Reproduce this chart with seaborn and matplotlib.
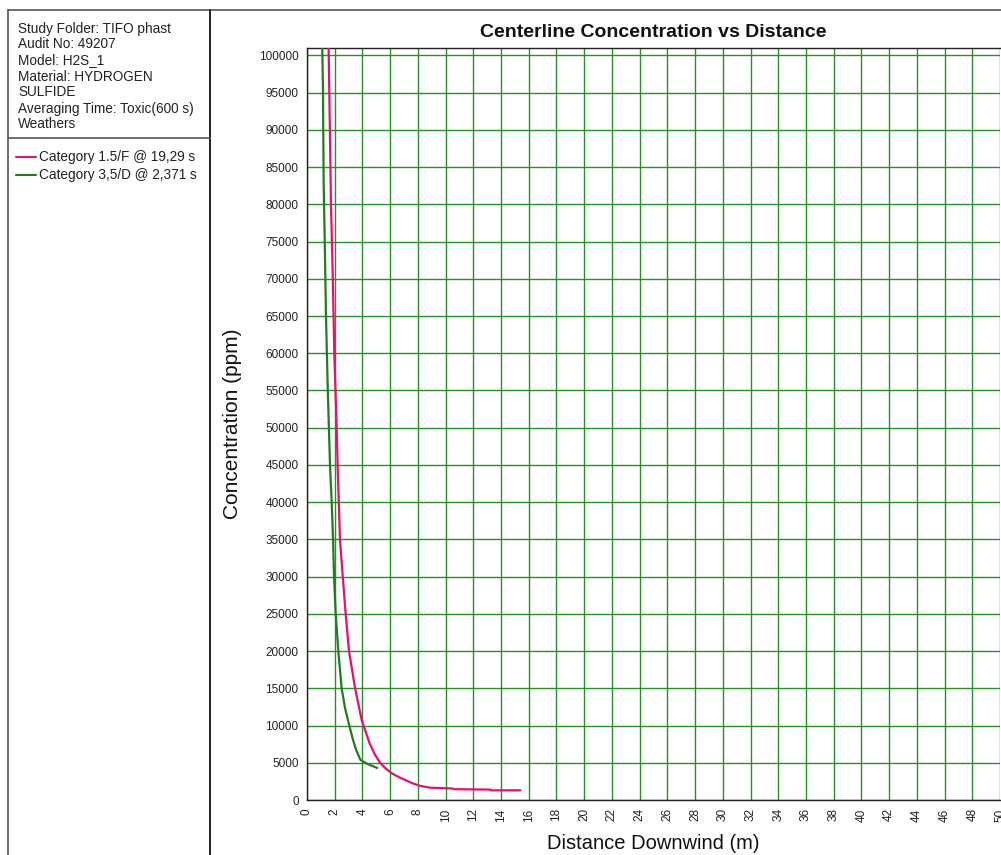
import numpy as np
import pandas as pd
import seaborn as sns
import matplotlib.pyplot as plt
from matplotlib.lines import Line2D

# Centerline concentration (ppm) against downwind distance (m)
pink_label = "Category 1.5/F @ 19,29 s"
pink_x = [1.56, 1.61, 1.73, 1.85, 1.97, 2.14, 2.21, 2.38, 2.58, 2.79, 3.03, 3.47,
          3.95, 4.5, 4.9, 5.27, 5.7, 6.1, 6.6, 7.07, 7.6, 8.16, 8.9, 10.5, 10.6,
          13.2, 13.3, 15.4]
pink_y = [101000, 95000, 80000, 71000, 60000, 50000, 45000, 35000, 30000, 25000,
          20000, 15000, 10700, 7700, 6100, 5000, 4200, 3600, 3100, 2700, 2250,
          1900, 1650, 1550, 1450, 1400, 1300, 1300]

green_label = "Category 3,5/D @ 2,371 s"
green_x = [1.1, 1.15, 1.2, 1.28, 1.37, 1.5, 1.66, 1.78, 1.88, 1.95, 2.07, 2.26,
           2.5, 2.75, 3.05, 3.3, 3.55, 3.85, 4.3, 5.07]
green_y = [101000, 96000, 83000, 75000, 65000, 55000, 45000, 40000, 35000, 30000,
           25000, 20000, 15000, 12300, 10000, 8200, 6700, 5400, 4900, 4300]

info_lines = [
    "Study Folder: TIFO phast",
    "Audit No: 49207",
    "Model: H2S_1",
    "Material: HYDROGEN",
    "SULFIDE",
    "Averaging Time: Toxic(600 s)",
    "Weathers",
]

x_ticks = list(range(0, 51, 2))
y_ticks = list(range(0, 100001, 5000))

PINK = "#e8106e"
GREEN = "#1e7d1e"
GRID = "#2a8f2a"

sns.set_theme(style="white")
plt.rcParams["font.family"] = ["Liberation Sans", "DejaVu Sans"]

W, H = 1001, 855
fig = plt.figure(figsize=(W / 100, H / 100), dpi=100)


def fx(x):
    return x / W


def fy(y):
    return 1 - y / H


ax = fig.add_axes([fx(307), fy(800), fx(1000) - fx(307), fy(48) - fy(800)])

df = pd.concat([
    pd.DataFrame({"x": pink_x, "y": pink_y, "series": pink_label}),
    pd.DataFrame({"x": green_x, "y": green_y, "series": green_label}),
])
sns.lineplot(data=df, x="x", y="y", hue="series", sort=False, estimator=None,
             palette={pink_label: PINK, green_label: GREEN}, linewidth=1.6,
             legend=False, ax=ax, zorder=3)

ax.set_xlim(0, 50)
ax.set_ylim(0, 101000)
ax.set_xticks(x_ticks)
ax.set_yticks(y_ticks)
ax.set_xticklabels([str(t) for t in x_ticks], rotation=90, fontsize=8.5, color="#222222")
ax.set_yticklabels([str(t) for t in y_ticks], fontsize=8.5, color="#222222")
ax.tick_params(axis="both", direction="out", length=4, width=0.8, color="#333333", pad=2)
ax.grid(True, color=GRID, linewidth=1.0, zorder=0)
ax.set_axisbelow(True)
for side in ["left", "bottom", "top"]:
    ax.spines[side].set_color("#222222")
    ax.spines[side].set_linewidth(1.0)
ax.spines["right"].set_visible(False)

ax.set_xlabel("Distance Downwind (m)", fontsize=14.5, color="#111111", labelpad=9)
ax.set_ylabel("Concentration (ppm)", fontsize=15, color="#111111", labelpad=12)
ax.set_title("Centerline Concentration vs Distance", fontsize=14, fontweight="bold",
             color="#111111", pad=8)

# Frame of the information panel
frame = "#555555"
fig.add_artist(Line2D([fx(8), fx(1001)], [fy(10), fy(10)], color=frame, lw=1.2))
fig.add_artist(Line2D([fx(8), fx(8)], [fy(10), fy(855)], color=frame, lw=1.2))
fig.add_artist(Line2D([fx(210), fx(210)], [fy(10), fy(855)], color="#222222", lw=1.4))
fig.add_artist(Line2D([fx(8), fx(210)], [fy(138), fy(138)], color=frame, lw=1.2))

for i, line in enumerate(info_lines):
    fig.text(fx(18), fy(28.5 + i * 16), line, fontsize=9.8, color="#222222",
             ha="left", va="center")

for i, (lab, col) in enumerate([(pink_label, PINK), (green_label, GREEN)]):
    yy = 156.5 + i * 18.5
    fig.add_artist(Line2D([fx(16), fx(36)], [fy(yy), fy(yy)], color=col, lw=1.5))
    fig.text(fx(39), fy(yy), lab, fontsize=9.8, color="#222222", ha="left", va="center")

fig.savefig("out.png", dpi=100)
